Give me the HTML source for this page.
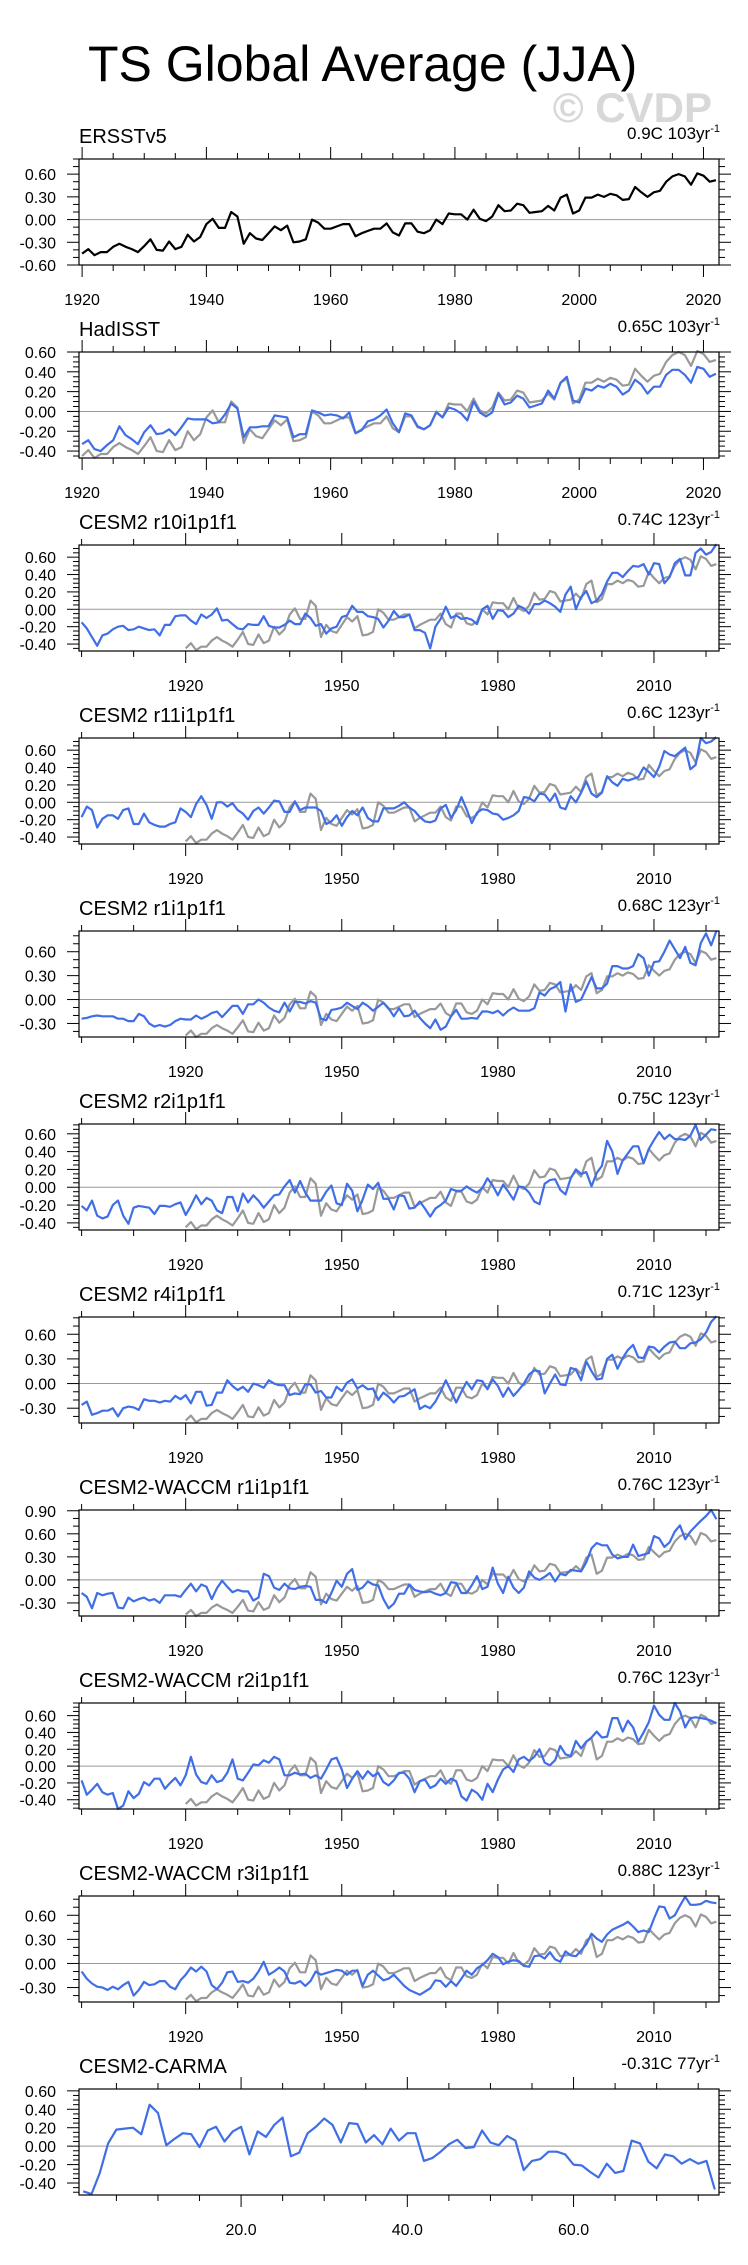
<!DOCTYPE html>
<html><head><meta charset="utf-8">
<style>
html,body{margin:0;padding:0;background:#fff;}
svg{display:block;font-family:"Liberation Sans",Arial,sans-serif;}
</style></head>
<body>
<svg id="chart" width="748" height="2265" viewBox="0 0 748 2265" xmlns="http://www.w3.org/2000/svg">
<rect x="0" y="0" width="748" height="2265" fill="#fff"/>
<text x="88" y="81" font-size="50" fill="#000">TS Global Average (JJA)</text>
<text x="712" y="122" font-size="42" font-weight="bold" fill="#d8d8d8" text-anchor="end">© CVDP</text>
</svg>
<script>
// ---------- data ----------
const obsStartYear = 1920;
const modelStartYear = 1900;
const ersst = [-0.45,-0.39,-0.47,-0.43,-0.43,-0.36,-0.32,-0.36,-0.39,-0.43,
-0.35,-0.26,-0.40,-0.41,-0.29,-0.39,-0.36,-0.20,-0.29,-0.23,
-0.06,0.01,-0.11,-0.11,0.10,0.04,-0.32,-0.18,-0.25,-0.27,
-0.18,-0.09,-0.14,-0.08,-0.30,-0.29,-0.26,0.00,-0.04,-0.12,
-0.12,-0.09,-0.06,-0.06,-0.22,-0.18,-0.15,-0.12,-0.12,-0.05,
-0.17,-0.21,-0.05,-0.05,-0.16,-0.18,-0.14,0.00,-0.06,0.08,
0.07,0.07,0.00,0.13,0.01,-0.02,0.04,0.19,0.11,0.12,
0.21,0.19,0.09,0.10,0.11,0.18,0.12,0.29,0.33,0.08,
0.12,0.29,0.29,0.33,0.30,0.34,0.32,0.26,0.27,0.43,
0.36,0.30,0.36,0.38,0.50,0.57,0.60,0.57,0.46,0.61,
0.58,0.50,0.52];
const hadisst = [-0.33,-0.29,-0.38,-0.40,-0.34,-0.29,-0.15,-0.24,-0.28,-0.33,
-0.21,-0.14,-0.23,-0.22,-0.18,-0.24,-0.16,-0.07,-0.08,-0.08,
-0.08,-0.12,-0.11,-0.03,0.08,0.03,-0.26,-0.16,-0.16,-0.15,
-0.15,-0.04,-0.05,-0.06,-0.26,-0.23,-0.23,0.01,-0.01,-0.04,
-0.03,-0.04,-0.07,-0.01,-0.22,-0.19,-0.10,-0.08,-0.04,0.02,
-0.12,-0.21,-0.02,-0.04,-0.15,-0.18,-0.14,-0.01,-0.06,0.04,
0.02,-0.02,-0.09,0.10,-0.01,-0.05,-0.01,0.18,0.07,0.09,
0.16,0.13,0.04,0.06,0.08,0.21,0.13,0.29,0.35,0.11,
0.09,0.23,0.21,0.26,0.24,0.28,0.25,0.17,0.21,0.32,
0.27,0.18,0.25,0.25,0.37,0.42,0.42,0.37,0.29,0.45,
0.43,0.35,0.38];
const cesm2R10 = [-0.15,-0.22,-0.32,-0.42,-0.30,-0.28,-0.23,-0.20,-0.19,-0.24,
-0.23,-0.20,-0.22,-0.24,-0.23,-0.30,-0.18,-0.18,-0.08,-0.07,
-0.07,-0.13,-0.17,-0.06,-0.10,-0.06,0.01,-0.13,-0.12,-0.17,
-0.22,-0.23,-0.17,-0.18,-0.18,-0.08,-0.19,-0.21,-0.21,-0.18,
-0.13,-0.17,-0.17,-0.05,-0.10,-0.19,-0.17,-0.28,-0.22,-0.20,
-0.09,-0.07,0.04,-0.03,-0.03,-0.08,-0.09,-0.11,-0.21,-0.13,
-0.02,-0.09,-0.09,-0.06,-0.24,-0.24,-0.27,-0.45,-0.20,-0.11,
0.03,-0.10,-0.07,-0.11,-0.10,-0.12,-0.17,0.00,0.04,-0.11,
-0.01,-0.02,-0.09,-0.05,0.04,0.01,-0.05,0.06,0.06,0.10,
0.07,0.03,-0.03,0.17,0.26,0.00,0.14,0.21,0.07,0.10,
0.18,0.32,0.42,0.42,0.37,0.44,0.50,0.49,0.52,0.40,
0.53,0.52,0.30,0.37,0.53,0.58,0.39,0.39,0.65,0.70,
0.63,0.66,0.75];
const cesm2R11 = [-0.17,-0.05,-0.09,-0.29,-0.19,-0.15,-0.15,-0.19,-0.09,-0.07,
-0.25,-0.25,-0.13,-0.23,-0.26,-0.28,-0.28,-0.25,-0.23,-0.07,
-0.11,-0.17,-0.02,0.07,-0.03,-0.19,0.00,0.00,-0.05,-0.01,
-0.09,-0.13,-0.20,-0.10,-0.06,-0.13,-0.06,0.02,0.01,-0.11,
-0.11,0.01,-0.09,-0.06,-0.06,-0.06,-0.10,-0.25,-0.22,-0.15,
-0.27,-0.17,-0.10,-0.15,-0.06,-0.18,-0.22,-0.22,-0.07,-0.07,
-0.07,-0.04,0.00,-0.06,-0.10,-0.17,-0.22,-0.23,-0.21,-0.07,
-0.03,-0.18,-0.09,0.06,-0.08,-0.24,-0.12,-0.08,-0.09,-0.13,
-0.14,-0.20,-0.18,-0.15,-0.10,0.06,0.05,0.01,0.10,0.09,
0.01,0.10,-0.06,-0.08,0.07,0.00,0.11,0.24,0.10,0.06,
0.11,0.30,0.23,0.19,0.27,0.25,0.27,0.29,0.40,0.35,
0.29,0.41,0.59,0.55,0.53,0.58,0.63,0.38,0.43,0.74,
0.68,0.70,0.75];
const cesm2R1 = [-0.24,-0.23,-0.21,-0.20,-0.21,-0.21,-0.21,-0.24,-0.24,-0.27,
-0.27,-0.18,-0.21,-0.30,-0.34,-0.32,-0.34,-0.32,-0.27,-0.24,
-0.25,-0.25,-0.20,-0.24,-0.21,-0.17,-0.15,-0.22,-0.15,-0.08,
-0.08,-0.18,-0.06,-0.06,0.00,-0.04,-0.10,-0.14,-0.16,-0.04,
-0.15,-0.03,-0.03,-0.05,-0.02,-0.04,-0.24,-0.26,-0.13,-0.12,
-0.10,-0.04,-0.08,-0.12,-0.04,-0.08,-0.14,-0.09,-0.04,-0.11,
-0.21,-0.11,-0.21,-0.20,-0.14,-0.23,-0.30,-0.36,-0.25,-0.38,
-0.34,-0.21,-0.13,-0.24,-0.24,-0.23,-0.24,-0.15,-0.15,-0.17,
-0.14,-0.20,-0.14,-0.10,-0.14,-0.14,-0.14,-0.11,0.09,0.05,
0.13,0.16,0.22,-0.15,0.19,-0.03,0.00,0.14,0.28,0.14,
0.14,0.20,0.42,0.42,0.39,0.39,0.42,0.57,0.52,0.30,
0.47,0.48,0.60,0.74,0.63,0.52,0.66,0.46,0.43,0.71,
0.83,0.68,0.86];
const cesm2R2 = [-0.21,-0.26,-0.15,-0.32,-0.35,-0.33,-0.20,-0.15,-0.32,-0.41,
-0.23,-0.21,-0.22,-0.23,-0.30,-0.21,-0.21,-0.22,-0.19,-0.17,
-0.31,-0.21,-0.09,-0.19,-0.12,-0.15,-0.26,-0.29,-0.11,-0.11,
-0.27,-0.07,-0.17,-0.09,-0.15,-0.23,-0.16,-0.09,-0.08,0.01,
0.08,-0.06,0.07,-0.06,-0.15,-0.15,-0.15,-0.05,0.02,-0.18,
-0.20,0.04,-0.04,-0.27,-0.14,0.03,-0.02,0.05,-0.13,-0.13,
-0.25,-0.09,-0.10,-0.24,-0.23,-0.16,-0.24,-0.33,-0.24,-0.20,
-0.15,-0.02,-0.04,-0.04,0.01,-0.03,-0.06,-0.01,0.10,0.02,
-0.09,0.03,-0.05,-0.14,0.01,0.00,-0.06,-0.16,-0.19,0.04,
0.08,0.09,-0.03,-0.08,0.10,0.20,0.15,0.17,0.01,0.16,
0.24,0.52,0.40,0.15,0.30,0.38,0.46,0.46,0.27,0.43,
0.53,0.62,0.54,0.59,0.54,0.54,0.53,0.58,0.70,0.53,
0.59,0.65,0.64];
const cesm2R4 = [-0.26,-0.22,-0.38,-0.36,-0.33,-0.33,-0.30,-0.40,-0.30,-0.28,
-0.29,-0.32,-0.19,-0.21,-0.21,-0.23,-0.21,-0.22,-0.15,-0.19,
-0.14,-0.24,-0.10,-0.10,-0.27,-0.26,-0.11,-0.11,0.04,-0.03,
-0.08,-0.04,-0.10,0.00,-0.02,-0.05,0.04,0.00,-0.02,-0.02,
-0.14,-0.12,-0.13,-0.01,-0.01,-0.11,-0.09,-0.17,-0.17,-0.04,
-0.09,0.01,0.05,-0.06,-0.02,-0.07,-0.06,-0.20,-0.11,-0.16,
-0.23,-0.16,-0.15,-0.11,-0.07,-0.31,-0.27,-0.30,-0.22,-0.10,
0.04,-0.09,-0.23,-0.10,0.02,-0.07,0.04,0.03,-0.07,0.05,
-0.03,-0.16,-0.05,-0.15,-0.08,0.00,0.11,0.16,0.15,-0.12,
0.00,0.11,-0.01,-0.02,0.19,0.17,0.04,0.27,0.15,0.05,
0.06,0.30,0.35,0.18,0.31,0.41,0.47,0.32,0.31,0.45,
0.44,0.38,0.45,0.50,0.51,0.43,0.43,0.49,0.50,0.54,
0.62,0.75,0.82];
const waccmR1 = [-0.17,-0.22,-0.37,-0.17,-0.20,-0.18,-0.17,-0.36,-0.37,-0.23,
-0.28,-0.25,-0.23,-0.27,-0.25,-0.30,-0.20,-0.20,-0.20,-0.22,
-0.13,-0.05,-0.15,-0.06,-0.09,-0.25,-0.11,-0.01,-0.09,-0.16,
-0.13,-0.15,-0.15,-0.27,-0.23,0.08,0.05,-0.10,-0.13,-0.05,
-0.11,-0.12,-0.09,-0.08,-0.09,-0.26,-0.26,-0.30,-0.17,-0.01,
-0.09,0.08,0.14,-0.13,-0.10,-0.02,-0.06,-0.07,-0.25,-0.37,
-0.31,-0.18,-0.18,-0.06,-0.13,-0.15,-0.16,-0.15,-0.18,-0.20,
-0.17,-0.03,-0.04,-0.17,-0.17,-0.07,0.05,-0.12,-0.09,0.16,
-0.05,-0.17,0.04,-0.10,-0.17,-0.10,0.11,0.03,0.00,0.04,
0.09,-0.02,0.08,0.06,0.13,0.12,0.11,0.23,0.41,0.48,
0.45,0.45,0.33,0.28,0.30,0.30,0.46,0.31,0.33,0.35,
0.57,0.54,0.43,0.49,0.63,0.71,0.53,0.63,0.70,0.77,
0.83,0.91,0.79];
const waccmR2 = [-0.17,-0.34,-0.28,-0.21,-0.31,-0.34,-0.32,-0.51,-0.47,-0.30,
-0.38,-0.33,-0.19,-0.23,-0.15,-0.15,-0.27,-0.20,-0.14,-0.23,
-0.11,0.11,-0.10,-0.19,-0.21,-0.11,-0.19,-0.17,-0.08,0.08,
-0.15,-0.17,-0.08,0.02,0.01,0.07,0.04,0.11,0.08,-0.11,
-0.11,-0.08,-0.10,-0.09,-0.14,-0.11,-0.15,-0.04,0.08,0.10,
-0.04,-0.26,-0.15,-0.06,-0.15,-0.06,-0.12,-0.08,-0.19,-0.23,
-0.17,-0.08,-0.08,-0.15,-0.31,-0.18,-0.16,-0.26,-0.23,-0.15,
-0.21,-0.15,-0.18,-0.36,-0.41,-0.28,-0.32,-0.40,-0.21,-0.31,
-0.16,-0.04,0.00,-0.07,0.08,0.11,0.06,0.11,0.20,0.04,
0.01,0.07,0.24,0.14,0.12,0.30,0.21,0.29,0.34,0.41,
0.34,0.35,0.57,0.57,0.41,0.54,0.46,0.29,0.40,0.52,
0.72,0.61,0.55,0.55,0.75,0.65,0.46,0.57,0.58,0.57,
0.56,0.54,0.51];
const waccmR3 = [-0.10,-0.19,-0.25,-0.29,-0.30,-0.33,-0.29,-0.32,-0.27,-0.23,
-0.40,-0.33,-0.23,-0.27,-0.26,-0.22,-0.22,-0.29,-0.32,-0.21,
-0.14,-0.05,-0.10,-0.04,-0.10,-0.27,-0.32,-0.24,-0.11,-0.10,
-0.23,-0.22,-0.24,-0.19,-0.10,0.02,-0.14,-0.10,-0.05,-0.10,
-0.24,-0.25,-0.22,-0.28,-0.22,-0.10,-0.14,-0.12,-0.10,-0.08,
-0.09,-0.14,-0.09,-0.09,-0.28,-0.14,-0.09,-0.15,-0.21,-0.19,
-0.14,-0.21,-0.28,-0.33,-0.36,-0.39,-0.35,-0.31,-0.21,-0.22,
-0.29,-0.22,-0.28,-0.19,-0.09,-0.14,-0.06,-0.02,0.04,0.12,
0.08,-0.01,0.02,0.04,0.03,-0.03,-0.04,0.09,0.10,0.06,
0.14,0.05,0.02,0.15,0.10,0.09,0.16,0.24,0.37,0.31,
0.27,0.36,0.42,0.45,0.48,0.52,0.46,0.39,0.41,0.39,
0.56,0.71,0.70,0.56,0.60,0.72,0.83,0.73,0.73,0.74,
0.78,0.76,0.75];
const carmaStart = 1;
const carma = [-0.49,-0.52,-0.29,0.03,0.18,0.19,0.20,0.13,0.45,0.36,
0.01,0.08,0.14,0.13,-0.01,0.17,0.21,0.05,0.16,0.21,
-0.09,0.16,0.10,0.23,0.31,-0.11,-0.07,0.14,0.21,0.30,
0.23,0.04,0.25,0.24,0.04,0.12,0.02,0.19,0.06,0.14,
0.14,-0.16,-0.13,-0.06,0.02,0.07,-0.02,-0.01,0.17,0.04,
0.01,0.11,0.06,-0.26,-0.16,-0.14,-0.06,-0.06,-0.09,-0.20,
-0.21,-0.28,-0.34,-0.19,-0.29,-0.27,0.06,0.03,-0.17,-0.24,
-0.09,-0.11,-0.19,-0.14,-0.19,-0.16,-0.47];
const panelTitles = ["ERSSTv5","HadISST","CESM2 r10i1p1f1","CESM2 r11i1p1f1","CESM2 r1i1p1f1","CESM2 r2i1p1f1","CESM2 r4i1p1f1","CESM2-WACCM r1i1p1f1","CESM2-WACCM r2i1p1f1","CESM2-WACCM r3i1p1f1","CESM2-CARMA"];
const trendLabels = ["0.9C 103yr","0.65C 103yr","0.74C 123yr","0.6C 123yr","0.68C 123yr","0.75C 123yr","0.71C 123yr","0.76C 123yr","0.76C 123yr","0.88C 123yr","-0.31C 77yr"];
const modelTickYears = [1920,1950,1980,2010];
const obsTickYears = [1920,1940,1960,1980,2000,2020];
const carmaTicks = [20,40,60];

// ---------- layout ----------
const svg = document.getElementById('chart');
const NS = 'http://www.w3.org/2000/svg';
const BOX_L = 79, BOX_R = 719, BOX_H = 106, TOP0 = 159, PITCH = 193;
const BLUE = '#3f6ee6', GRAY = '#999999';

function mk(tag, attrs, parent){
  const e = document.createElementNS(NS, tag);
  for (const k in attrs) e.setAttribute(k, attrs[k]);
  (parent || svg).appendChild(e);
  return e;
}
function fmt(v){ if (Math.abs(v) < 1e-9) v = 0; return v.toFixed(2); }

const panels = [
  {key:'ersst', data:[{vals:ersst,start:obsStartYear,color:'#000'}], xr:[1919.5,2022.5], xMaj:obsTickYears, xMin:5, xMinStart:1920, yr:[-0.60,0.80], yStep:0.3, yMinor:0.1},
  {key:'hadisst', data:[{vals:ersst,start:obsStartYear,color:GRAY},{vals:hadisst,start:obsStartYear,color:BLUE}], xr:[1919.5,2022.5], xMaj:obsTickYears, xMin:5, xMinStart:1920, yr:[-0.47,0.60], yStep:0.2, yMinor:0.05},
  {key:'cesm2-r10', model:cesm2R10, yr:[-0.48,0.74], yStep:0.2, yMinor:0.05},
  {key:'cesm2-r11', model:cesm2R11, yr:[-0.48,0.74], yStep:0.2, yMinor:0.05},
  {key:'cesm2-r1', model:cesm2R1, yr:[-0.47,0.86], yStep:0.3, yMinor:0.1},
  {key:'cesm2-r2', model:cesm2R2, yr:[-0.48,0.71], yStep:0.2, yMinor:0.05},
  {key:'cesm2-r4', model:cesm2R4, yr:[-0.48,0.81], yStep:0.3, yMinor:0.1},
  {key:'waccm-r1', model:waccmR1, yr:[-0.47,0.91], yStep:0.3, yMinor:0.1},
  {key:'waccm-r2', model:waccmR2, yr:[-0.51,0.75], yStep:0.2, yMinor:0.05},
  {key:'waccm-r3', model:waccmR3, yr:[-0.48,0.84], yStep:0.3, yMinor:0.1},
  {key:'carma', data:[{vals:carma,start:carmaStart,color:BLUE}], xr:[0.5,77.5], xMaj:carmaTicks, xMin:5, xMinStart:5, yr:[-0.53,0.62], yStep:0.2, yMinor:0.05, carma:true}
];
panels.forEach(p => {
  if (p.model) {
    p.data = [{vals:ersst,start:obsStartYear,color:GRAY},{vals:p.model,start:modelStartYear,color:BLUE}];
    p.xr = [1899.5,2022.5]; p.xMaj = modelTickYears; p.xMin = 10; p.xMinStart = 1900;
  }
});

panels.forEach((p, i) => {
  const top = TOP0 + i*PITCH, bot = top + BOX_H;
  const g = mk('g', {});
  
  
  const xs = v => BOX_L + (v - p.xr[0]) / (p.xr[1] - p.xr[0]) * (BOX_R - BOX_L);
  const ys = v => bot - (v - p.yr[0]) / (p.yr[1] - p.yr[0]) * BOX_H;

  const t = mk('text', {x:BOX_L, y:top-16, 'font-size':20, fill:'#000'}, g);
  
  
  t.textContent = panelTitles[i];
  const r = mk('text', {x:BOX_R+1, y:top-20, 'font-size':17, fill:'#000', 'text-anchor':'end'}, g);
  
  
  r.appendChild(document.createTextNode(trendLabels[i]));
  const sup = mk('tspan', {dy:-7, 'font-size':11}, r);
  sup.textContent = '-1';

  const tk = mk('g', {stroke:'#000', 'stroke-width':1}, g);
  
  
  const yStart = Math.ceil(p.yr[0]/p.yMinor - 1e-6);
  for (let k = yStart; k*p.yMinor <= p.yr[1] + 1e-6; k++) {
    const v = k*p.yMinor;
    const isMaj = Math.abs(v/p.yStep - Math.round(v/p.yStep)) < 1e-6;
    const y = ys(v), len = isMaj ? 12 : 6;
    mk('line', {x1:BOX_L-len, y1:y, x2:BOX_L, y2:y}, tk);
    mk('line', {x1:BOX_R, y1:y, x2:BOX_R+len, y2:y}, tk);
    if (isMaj) {
      const lb = mk('text', {x:56, y:y+6, 'font-size':16, 'text-anchor':'end', fill:'#000', stroke:'none'}, g);
      
      
      lb.textContent = fmt(v);
    }
  }
  for (let v = p.xMinStart; v <= p.xr[1]; v += p.xMin) {
    const isMaj = p.xMaj.indexOf(v) >= 0;
    const x = xs(v), len = isMaj ? 12 : 6;
    mk('line', {x1:x, y1:top-len, x2:x, y2:top}, tk);
    mk('line', {x1:x, y1:bot, x2:x, y2:bot+len}, tk);
  }
  p.xMaj.forEach(v => {
    const lb = mk('text', {x:xs(v), y:bot+40, 'font-size':16, 'text-anchor':'middle', fill:'#000'}, g);
    
    
    lb.textContent = p.carma ? v.toFixed(1) : String(v);
  });

  const z = mk('line', {x1:BOX_L, y1:ys(0), x2:BOX_R, y2:ys(0), stroke:'#999', 'stroke-width':1}, g);
  
  

  p.data.forEach(s => {
    const pts = s.vals.map((v, k) => xs(s.start + k).toFixed(1) + ',' + ys(v).toFixed(1)).join(' ');
    const pl = mk('polyline', {points:pts, fill:'none', stroke:s.color, 'stroke-width':2.2, 'stroke-linejoin':'round'}, g);
    
    
  });

  const bx = mk('rect', {x:BOX_L, y:top, width:BOX_R-BOX_L, height:BOX_H, fill:'none', stroke:'#000', 'stroke-width':1.2}, g);
  
  
});
</script>
</body></html>
